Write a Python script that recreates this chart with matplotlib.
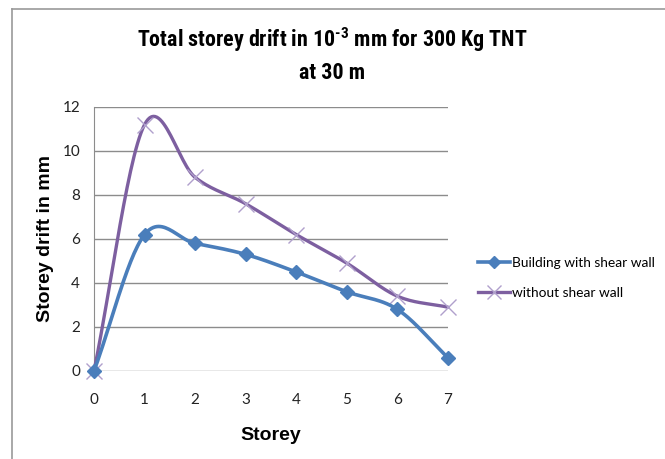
import numpy as np
import matplotlib
matplotlib.use("Agg")
import matplotlib.pyplot as plt
from matplotlib.lines import Line2D
from matplotlib import font_manager

storey = [0, 1, 2, 3, 4, 5, 6, 7]
with_wall = [0, 6.2, 5.8, 5.3, 4.5, 3.6, 2.8, 0.6]
without_wall = [0, 11.2, 8.8, 7.6, 6.2, 4.9, 3.4, 2.9]
yticks = [0, 2, 4, 6, 8, 10, 12]
labels = ["Building with shear wall", "without shear wall"]

BLUE = "#4A7EBB"
PURPLE = "#7D5FA0"

# pick a narrow bold font for the title (arial narrow look)
fonts = font_manager.fontManager.ttflist
title_file = None
for name in ["Liberation Sans Narrow", "Arial Narrow", "Roboto Condensed",
             "Open Sans Condensed", "Barlow Condensed", "Asap Condensed",
             "DejaVu Sans"]:
    for f in fonts:
        if (f.name == name and f.weight in (700, "bold") and f.style == "normal"
                and (name != "DejaVu Sans" or f.stretch == "condensed")):
            title_file = f.fname
            break
    if title_file:
        break


def smooth(x, y, n=30):
    # catmull-rom curve through the points, like excel's smoothed line
    p = np.column_stack([x, y]).astype(float)
    pts = np.vstack([p[0] - (p[1] - p[0]), p, p[-1] + (p[-1] - p[-2])])
    out = []
    t = np.linspace(0, 1, n)[:, None]
    for i in range(1, len(pts) - 2):
        p0, p1, p2, p3 = pts[i - 1], pts[i], pts[i + 1], pts[i + 2]
        seg = 0.5 * (2 * p1 + (-p0 + p2) * t + (2 * p0 - 5 * p1 + 4 * p2 - p3) * t**2
                     + (-p0 + 3 * p1 - 3 * p2 + p3) * t**3)
        out.append(seg)
    out = np.vstack(out)
    return out[:, 0], out[:, 1]


def text_width(fig, s, **kw):
    t = fig.text(0, 0, s, **kw)
    w = t.get_window_extent(fig.canvas.get_renderer()).width
    t.remove()
    return w


fig = plt.figure(figsize=(6.65, 4.59), dpi=100)
ax = fig.add_axes([94 / 665, 1 - 371 / 459, (448 - 94) / 665, (371 - 107) / 459])

sx, sy = smooth(storey, without_wall)
ax.plot(sx, sy, color=PURPLE, lw=2.4, solid_capstyle="round", zorder=3, clip_on=False)
ax.plot(storey, without_wall, ls="none", marker="x", ms=11, mew=1.0,
        color="#B0A0CC", zorder=4, clip_on=False)

sx, sy = smooth(storey, with_wall)
ax.plot(sx, sy, color=BLUE, lw=2.6, solid_capstyle="round", zorder=5, clip_on=False)
ax.plot(storey, with_wall, ls="none", marker="D", ms=7, color=BLUE, zorder=6, clip_on=False)

ax.set_xlim(0, 7)
ax.set_ylim(0, 12)
ax.set_yticks(yticks)
ax.set_xticks(storey)
ax.grid(axis="y", color="#8C8C8C", lw=1)
ax.set_axisbelow(True)
for s in ["top", "right", "bottom"]:
    ax.spines[s].set_visible(False)
ax.spines["left"].set_color("#8C8C8C")
ax.tick_params(length=0, labelsize=11, colors="#222222")
ax.tick_params(axis="y", pad=10)
ax.tick_params(axis="x", pad=16)
for lab in ax.get_xticklabels() + ax.get_yticklabels():
    lab.set_family("Lato")

ax.set_ylabel("Storey drift in mm", fontsize=14, fontweight="bold",
              family="Liberation Sans", labelpad=6)
ax.set_xlabel("Storey", fontsize=14, fontweight="bold",
              family="Liberation Sans", labelpad=14)

# title: size it so the first line is ~390 px wide like the reference
title = "Total storey drift in 10$^{\\text{-3}}$ mm for 300 Kg TNT"
if title_file:
    plt.rcParams["mathtext.fontset"] = "custom"
    plt.rcParams["mathtext.rm"] = font_manager.FontProperties(fname=title_file).get_name() + ":bold"
    tfp = font_manager.FontProperties(fname=title_file, size=18)
else:
    tfp = font_manager.FontProperties(family="Liberation Sans", weight="bold", size=18)
w = text_width(fig, title, fontproperties=tfp)
tfp.set_size(min(24, 18 * 390 / w))
fig.text(0.5, 1 - 40 / 459, title, ha="center", va="center", fontproperties=tfp)
fig.text(0.5, 1 - 73 / 459, "at 30 m", ha="center", va="center", fontproperties=tfp)

leg_size = 9.9
handles = [
    Line2D([], [], color=BLUE, lw=2.6, marker="D", ms=6),
    Line2D([], [], color=PURPLE, lw=2.4, marker="x", ms=10, mec="#B0A0CC"),
]
fig.legend(handles, labels,
           loc="center left", bbox_to_anchor=(478 / 665, 1 - 278 / 459),
           frameon=False, prop={"family": "Lato", "size": leg_size},
           handlelength=32 / (leg_size * 100 / 72), handletextpad=0.15,
           labelspacing=1.3, borderpad=0, borderaxespad=0)

# frame of the pasted chart
fig.add_artist(Line2D([12 / 665, 12 / 665], [0, 1 - 9 / 459], color="#999999", lw=1.2))
fig.add_artist(Line2D([12 / 665, 1], [1 - 9 / 459, 1 - 9 / 459], color="#999999", lw=1.2))

fig.savefig("out.png", dpi=100)
